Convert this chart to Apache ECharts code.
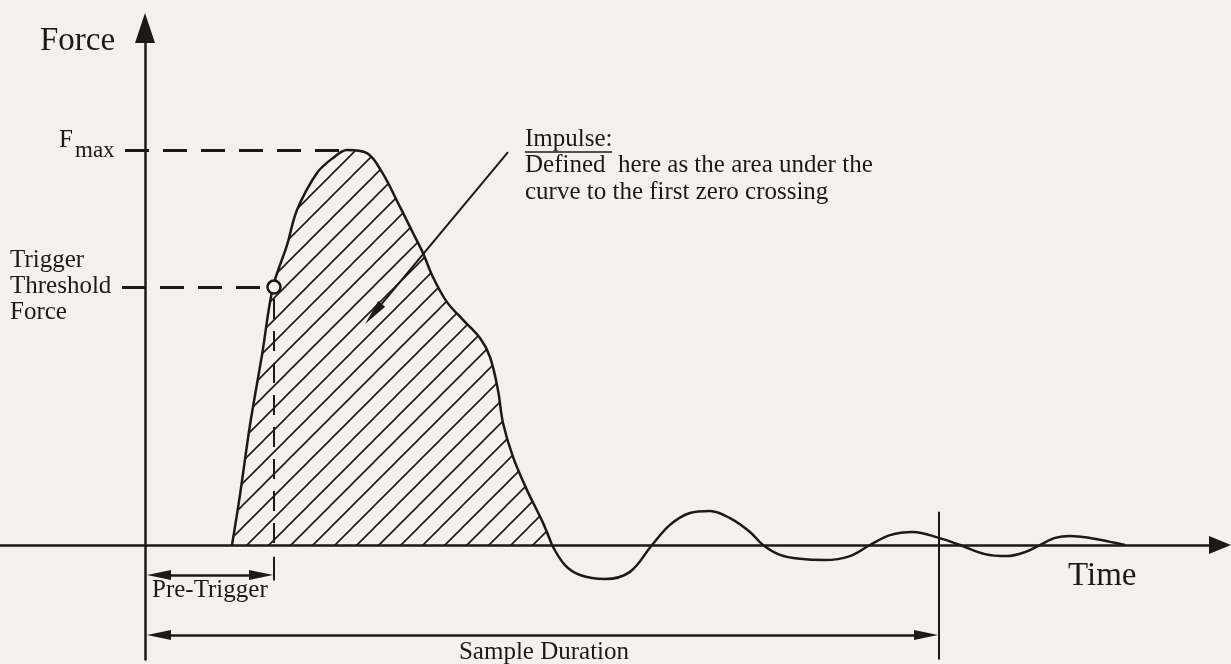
<!DOCTYPE html>
<html>
<head>
<meta charset="utf-8">
<script src="https://cdn.jsdelivr.net/npm/echarts@6/dist/echarts.min.js"></script>
<style>
html, body { margin: 0; padding: 0; background: #f2f1eb; }
#main { width: 1231px; height: 664px; }
</style>
</head>
<body>
<div id="main"></div>
<script>
// force pulse (time units, force in % of Fmax)
var pulseTime = [8.7, 9.5, 10.5, 11.7, 12.8, 14.2, 15.2, 17.2, 18.8, 20.2, 22.2, 23.7, 25.5, 26.8, 27.8, 28.8, 30.2, 31.8, 33.5, 34.5, 35.3, 35.8, 36.8, 38.2, 39.8, 40.7]
var pulseForce = [0, 12.7, 30.4, 48.1, 65.3, 75.9, 84.8, 94.2, 98.0, 100, 99.2, 94.4, 85.6, 79.0, 73.9, 67.8, 61.5, 57.0, 52.4, 47.6, 39.2, 30.9, 22.3, 13.9, 5.6, 0]
// ringing after the first zero crossing
var tailTime = [40.7, 42.0, 43.5, 46.0, 48.5, 50.7, 52.5, 54.5, 56.5, 58.5, 60.5, 61.8, 63.5, 65.5, 68.0, 70.5, 72.5, 74.5, 76.8, 79.4, 81.5, 84.0, 86.2, 88.0, 89.5, 91.0, 92.5, 94.5, 96.5, 98.0]
var tailForce = [0, -5.1, -7.6, -8.6, -6.8, 0, 5.1, 8.1, 8.6, 6.8, 3.3, 0, -2.5, -3.5, -3.8, -2.8, 0, 2.5, 3.3, 1.8, 0, -2.3, -2.8, -1.8, 0, 1.8, 2.3, 1.8, 0.8, 0]

var fmaxLevel = 100
var fmaxTime = 20.2
var triggerTime = 12.9
var triggerLevel = 65.3
var sampleEnd = 79.4
var impulseFrom = [36.3, 99.5]
var impulseTo = [22.84, 58.5]

var INK = '#1d1919'
var BG = '#f2f1eb'
var FONT = '"Liberation Serif", "Times New Roman", serif'

function zip(xs, ys) {
    return xs.map(function (x, i) { return [x, ys[i]] })
}

function hatch() {
    var w = 22, h = 22
    var c = document.createElement('canvas')
    c.width = w
    c.height = h
    var ctx = c.getContext('2d')
    ctx.strokeStyle = INK
    ctx.lineWidth = 1.6
    for (var k = -1; k <= 1; k++) {
        ctx.beginPath()
        ctx.moveTo(-w, 2 * h + k * h)
        ctx.lineTo(2 * w, -h + k * h)
        ctx.stroke()
    }
    return c
}

function txt(text, x, y, size, align) {
    return {
        type: 'text', x: x, y: y, silent: true,
        style: {
            text: text, fill: INK, font: size + 'px ' + FONT,
            align: align || 'left', textAlign: align || 'left',
            verticalAlign: 'middle', textVerticalAlign: 'middle'
        }
    }
}

var myChart = echarts.init(document.getElementById('main'))

var option = {
    backgroundColor: BG,
    animation: false,
    grid: { left: 0, right: 11, top: 28, bottom: 4.45, outerBoundsMode: 'none' },
    xAxis: {
        type: 'value', min: -14.5, max: 107.5,
        axisLine: { show: true, symbol: ['none', 'triangle'], symbolSize: [18, 22], lineStyle: { color: INK, width: 2.5 } },
        axisTick: { show: false }, axisLabel: { show: false }, splitLine: { show: false }
    },
    yAxis: {
        type: 'value', min: -29, max: 130.9,
        axisLine: { show: true, symbol: ['none', 'triangle'], symbolSize: [20, 30], lineStyle: { color: INK, width: 2.5 } },
        axisTick: { show: false }, axisLabel: { show: false }, splitLine: { show: false }
    },
    series: [
        {
            // impulse area up to first zero crossing
            type: 'line', data: zip(pulseTime, pulseForce), smooth: 0.35,
            symbol: 'none', silent: true,
            lineStyle: { color: INK, width: 2.5 },
            areaStyle: { color: { image: hatch(), repeat: 'repeat' }, opacity: 1 }
        },
        {
            type: 'line', data: zip(tailTime, tailForce), smooth: 0.35,
            symbol: 'none', silent: true,
            lineStyle: { color: INK, width: 2.5 }
        },
        {
            // dashed leaders
            type: 'line', data: [], silent: true,
            markLine: {
                silent: true, symbol: ['none', 'none'], label: { show: false },
                emphasis: { disabled: true },
                lineStyle: { color: INK, width: 2.8, type: [24, 14] },
                data: [
                    [{ coord: [-2.0, fmaxLevel] }, { coord: [fmaxTime, fmaxLevel] }],
                    [{ coord: [-2.3, triggerLevel] }, { coord: [triggerTime - 0.7, triggerLevel] }]
                ]
            }
        },
        {
            type: 'line', data: [], silent: true,
            markLine: {
                silent: true, symbol: ['none', 'none'], label: { show: false },
                emphasis: { disabled: true },
                lineStyle: { color: INK, width: 2, type: [20, 12] },
                data: [
                    [{ coord: [triggerTime, triggerLevel - 3] }, { coord: [triggerTime, 0] }]
                ]
            }
        },
        {
            // plain marker lines
            type: 'line', data: [], silent: true,
            markLine: {
                silent: true, symbol: ['none', 'none'], label: { show: false },
                emphasis: { disabled: true },
                lineStyle: { color: INK, width: 2, type: 'solid' },
                data: [
                    [{ coord: [sampleEnd, 8.4] }, { coord: [sampleEnd, -29] }],
                    [{ coord: [triggerTime, -3.0] }, { coord: [triggerTime, -9.0] }]
                ]
            }
        },
        {
            // duration arrows
            type: 'line', data: [], silent: true,
            markLine: {
                silent: true, symbol: ['triangle', 'triangle'], symbolSize: [10, 24],
                label: { show: false }, emphasis: { disabled: true },
                lineStyle: { color: INK, width: 2.5, type: 'solid' },
                itemStyle: { color: INK },
                data: [
                    [{ coord: [1.4, -7.6] }, { coord: [triggerTime - 1.3, -7.6] }],
                    [{ coord: [1.4, -22.8] }, { coord: [sampleEnd - 1.3, -22.8] }]
                ]
            }
        },
        {
            // impulse pointer
            type: 'line', data: [], silent: true,
            markLine: {
                silent: true, symbol: ['none', 'triangle'], symbolSize: [9, 26],
                label: { show: false }, emphasis: { disabled: true },
                lineStyle: { color: INK, width: 2, type: 'solid' },
                itemStyle: { color: INK },
                data: [[{ coord: impulseFrom }, { coord: impulseTo }]]
            }
        },
        {
            // trigger point
            type: 'scatter', silent: true,
            data: [[triggerTime, triggerLevel]],
            symbol: 'circle', symbolSize: 13,
            itemStyle: { color: BG, borderColor: INK, borderWidth: 2.5, opacity: 1 },
            z: 5
        }
    ],
    graphic: [
        txt('Force', 40, 41, 33),
        txt('Time', 1068, 576, 33),
        txt('F', 59, 140, 25),
        txt('max', 75, 151, 23),
        txt('Trigger', 10, 260, 25),
        txt('Threshold', 10, 286, 25),
        txt('Force', 10, 312, 25),
        txt('Impulse:', 525, 139, 25),
        { type: 'line', silent: true, shape: { x1: 525, y1: 152, x2: 612, y2: 152 }, style: { stroke: INK, lineWidth: 1.5 } },
        txt('Defined  here as the area under the', 525, 165, 25),
        txt('curve to the first zero crossing', 525, 192, 25),
        txt('Pre-Trigger', 152, 590, 25),
        txt('Sample Duration', 544, 652, 25, 'center')
    ]
}

myChart.setOption(option)
</script>
</body>
</html>
